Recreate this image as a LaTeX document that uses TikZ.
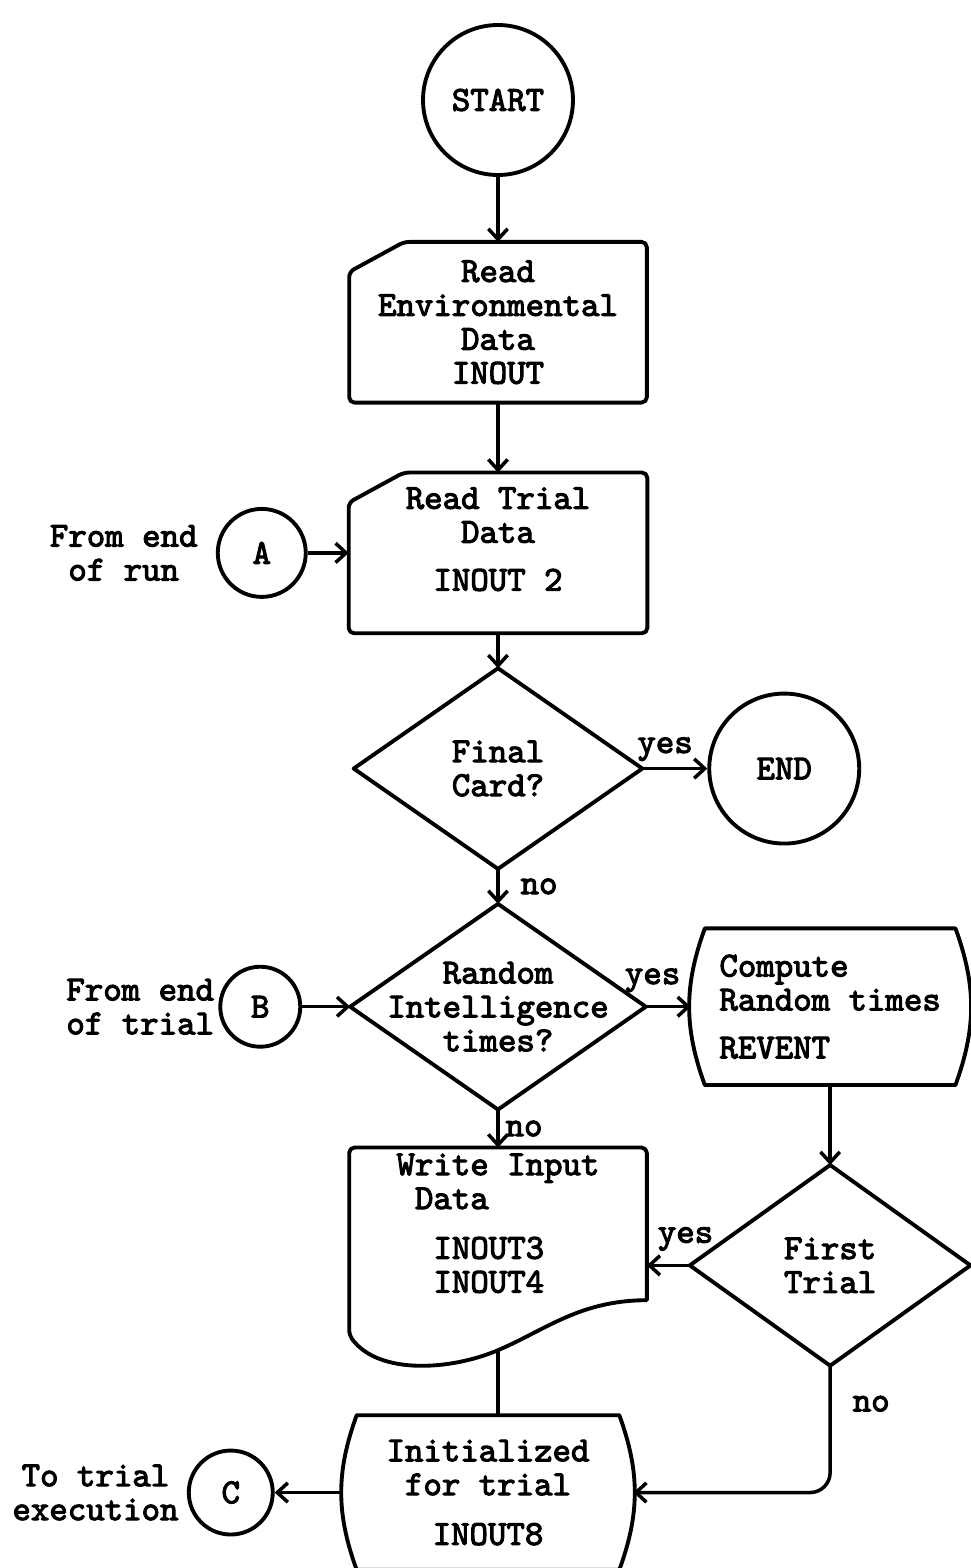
\documentclass[tikz,border=0pt]{standalone}
\usepackage{fontspec}
\newfontfamily\flowfont{lmmono10-regular.otf}[FakeBold=3]
\usetikzlibrary{positioning, arrows.meta, calc}

\begin{document}
\begin{tikzpicture}[
        x=0.02cm, y=0.02cm,
        font=\flowfont\fontsize{20}{19.3}\selectfont,
        termbox/.style={circle, draw, line width=2.2pt, minimum size=3cm, inner sep=0pt},
        connbox/.style={circle, draw, line width=2.2pt, minimum size=1.7cm, inner sep=0pt},
        procbox/.style={rectangle, minimum width=5.94cm, minimum height=3.2cm, inner sep=0pt, align=center},
        decbox/.style={rectangle, minimum width=5.8cm, minimum height=4cm, inner sep=0pt, align=center},
        note/.style={align=center, inner sep=0pt},
        outline/.style={line width=2.2pt, line join=round},
        arr/.style={-{Straight Barb[length=6pt, width=11pt]}, line width=2pt},
    ]
        \useasboundingbox (0,0) rectangle (970,-1568);

        % Main column
        \node[termbox] (start) at (498,-100) {START};
        \node[procbox, below=1.3cm of start] (env) {Read\\Environmental\\Data\\INOUT};
        \node[procbox, minimum width=5.96cm, below=1.4cm of env] (trial) {Read Trial\\Data\\[8pt]INOUT 2\\[-3.5pt]};
        \node[decbox, minimum width=5.76cm, below=0.7cm of trial] (final) {Final\\Card?};
        \node[termbox, right=1.3cm of final] (stop) {END};
        \node[decbox, minimum width=5.9cm, minimum height=4.1cm, below=0.7cm of final] (rand) {Random\\Intelligence\\times?};
        \node[procbox, minimum width=5.56cm, minimum height=3.12cm, align=left, right=0.9cm of rand] (comp) {Compute\\Random times\\[8pt]REVENT};
        \node[decbox, minimum width=5.6cm, below=1.6cm of comp] (first) {First\\Trial};
        \node[procbox, minimum height=4.04cm, align=left, below=0.76cm of rand] (write) {Write Input\\\phantom{W}Data\\[9pt]\phantom{WD}INOUT3\\\phantom{WD}INOUT4\\[10pt]};
        \node[procbox, minimum width=5.8cm, minimum height=3.08cm, below=1.3cm of write, xshift=-0.2cm] (init) {Initialized\\for trial\\[9pt]INOUT8};

        % Off-page connectors
        \node[connbox, minimum size=1.76cm, left=0.82cm of trial] (ina) {A};
        \node[note, left=0.36cm of ina] (runtxt) {From end\\of run};
        \node[connbox, minimum size=1.6cm, left=0.96cm of rand] (inb) {B};
        \node[note, left=0.08cm of inb] (trialtxt) {From end\\of trial};
        \node[connbox, minimum size=1.68cm, left=1.36cm of init] (outc) {C};
        \node[note, left=0.16cm of outc] (exectxt) {To trial\\execution};

        % Outlines
        \foreach \b in {env, trial}
            \draw[outline, rounded corners=3pt] ($(\b.north west)+(0,-30)$) -- ($(\b.north west)+(55,0)$) -- (\b.north east) -- (\b.south east) -- (\b.south west) -- cycle;
        \foreach \d in {final, rand, first}
            \draw[outline] (\d.north) -- (\d.east) -- (\d.south) -- (\d.west) -- cycle;
        \foreach \b in {comp, init}
            \draw[outline] ($(\b.north west)+(14,0)$) -- ($(\b.north east)+(-14,0)$) to[bend left=20] ($(\b.south east)+(-14,0)$) -- ($(\b.south west)+(14,0)$) to[bend left=20] ($(\b.north west)+(14,0)$) -- cycle;
        \draw[outline, rounded corners=3pt] ($(write.south east)+(0,50)$) -- (write.north east) -- (write.north west) -- ($(write.south west)+(0,15)$) [sharp corners] .. controls ($(write.south west)+(30,-25)$) and ($(write.south)+(-47,-20)$) .. (write.south) .. controls ($(write.south)+(47,20)$) and ($(write.south)+(82,50)$) .. ($(write.south east)+(0,50)$) -- cycle;

        % Arrows
        \draw[arr] (start) -- (env);
        \draw[arr] (env) -- (trial);
        \draw[arr] (ina) -- (trial.west);
        \draw[arr] (trial) -- (final.north);
        \draw[arr] (final.east) -- (stop) node[pos=0.35, above] {yes};
        \draw[arr] (final.south) -- (rand.north) node[midway, right=0.3cm] {no};
        \draw[arr] (inb) -- (rand.west);
        \draw[arr] (rand.east) -- (comp.west) node[pos=0.15, above=4pt] {yes};
        \draw[arr] (rand.south) -- (write.north) node[midway, right] {no};
        \draw[arr] (comp.south) -- (first.north);
        \draw[arr] (first.west) -- (first.west -| write.east) node[pos=0.1, above=4pt] {yes};
        \draw[line width=2pt] (write.south) -- (write.south |- init.north);
        \draw[arr, rounded corners=0.4cm] (first.south) |- (init.east) node[pos=0.15, right=0.3cm] {no};
        \draw[arr] (init.west) -- (outc);
    \end{tikzpicture}
\end{document}
